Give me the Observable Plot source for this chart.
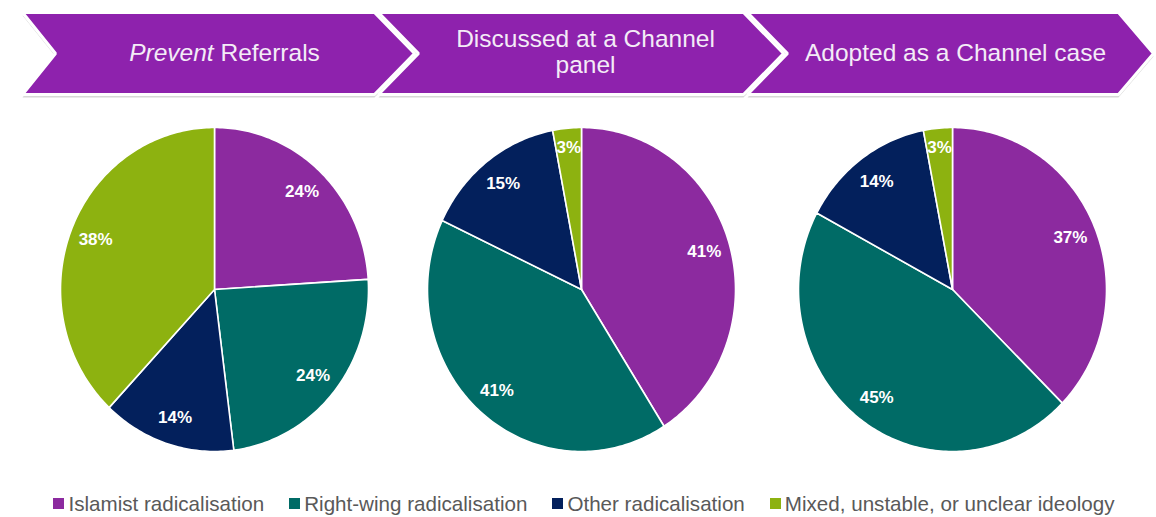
<!DOCTYPE html>
<html>
<head>
<meta charset="utf-8">
<script src="https://cdn.jsdelivr.net/npm/d3@7"></script>
<script src="https://cdn.jsdelivr.net/npm/@observablehq/plot@0.6"></script>
<style>
  html, body { margin: 0; padding: 0; background: #fff; }
  body { width: 1156px; height: 517px; overflow: hidden; font-family: "Liberation Sans", Arial, sans-serif; }
  #legend { display: flex; justify-content: center; gap: 25px; height: 27px; line-height: 29px;
            font-size: 20.6px; color: #595959; padding-left: 12px; }
  #legend .item { display: flex; align-items: center; white-space: nowrap; }
  #legend .sw { width: 11px; height: 11px; margin-right: 4px; display: inline-block; }
</style>
</head>
<body>
<div id="chart"></div>
<div id="legend"></div>
<script>
// ---------- data ----------
const categories = ["Islamist radicalisation", "Right-wing radicalisation", "Other radicalisation", "Mixed, unstable, or unclear ideology"];
const colors = ["#8c2a9f", "#006b66", "#03205c", "#8db210"];
const stages = ["Prevent Referrals", "Discussed at a Channel\npanel", "Adopted as a Channel case"];
const referrals = [24, 24, 14, 38];
const discussed = [41, 41, 15, 3];
const adopted = [37, 45, 14, 3];

// ---------- layout ----------
const W = 1156, H = 490;
const pieCx = [214, 581, 952], pieCy = 289, rx = 154, ry = 162;
const chevLeft = [22, 378, 747], chevRight = [374, 743, 1118];
const notch = [33, 40, 40], tipDepth = [40, 40, 35];
const chevTop = 12, chevBottom = 94, chevMid = 53;
const headerX = [224, 585, 955];

const series = [referrals, discussed, adopted];

// pie slice polygons
const slices = [], labels = [];
series.forEach((vals, i) => {
  const arcs = d3.pie().sort(null)(vals);
  arcs.forEach((a, j) => {
    const key = i + "-" + j;
    slices.push({key, cat: categories[j], x: pieCx[i], y: pieCy});
    const n = Math.max(2, Math.ceil((a.endAngle - a.startAngle) / (Math.PI / 180)));
    for (let k = 0; k <= n; k++) {
      const t = a.startAngle + (a.endAngle - a.startAngle) * k / n;
      slices.push({key, cat: categories[j], x: pieCx[i] + rx * Math.sin(t), y: pieCy - ry * Math.cos(t)});
    }
    const m = (a.startAngle + a.endAngle) / 2;
    const f = vals[j] < 5 ? 0.88 : 0.83;
    labels.push({x: pieCx[i] + f * rx * Math.sin(m), y: pieCy - f * ry * Math.cos(m), text: vals[j] + "%"});
  });
});

// chevron polygons
const chevrons = [], shadows = [];
stages.forEach((s, i) => {
  const pts = [
    [chevLeft[i], chevTop], [chevRight[i], chevTop], [chevRight[i] + tipDepth[i], chevMid],
    [chevRight[i], chevBottom], [chevLeft[i], chevBottom], [chevLeft[i] + notch[i], chevMid]
  ];
  pts.forEach(([x, y]) => {
    chevrons.push({key: i, x, y});
    shadows.push({key: i, x: x, y: y + 3});
  });
});
const headers = stages.map((s, i) => ({x: headerX[i], y: chevMid - (s.includes("\n") ? 2 : 1), text: s}));

const chart = Plot.plot({
  width: W, height: H, margin: 0,
  style: {background: "#fff", fontFamily: "'Liberation Sans', Arial, sans-serif"},
  x: {domain: [0, W], range: [0, W], axis: null},
  y: {domain: [0, H], range: [0, H], axis: null},
  color: {domain: categories, range: colors},
  marks: [
    Plot.line(shadows, {x: "x", y: "y", z: "key", curve: "linear-closed", fill: "#bdbdbd", fillOpacity: 0.6, stroke: "none"}),
    Plot.line(chevrons, {x: "x", y: "y", z: "key", curve: "linear-closed", fill: "#8e22ad", stroke: "white", strokeWidth: 3, strokeLinejoin: "miter"}),
    Plot.text(headers, {x: "x", y: "y", text: "text", fill: "#f4ecf7", fontSize: 24.5, lineHeight: 1.08}),
    Plot.line(slices, {x: "x", y: "y", z: "key", fill: "cat", stroke: "white", strokeWidth: 1.6, curve: "linear-closed", strokeLinejoin: "round"}),
    Plot.text(labels, {x: "x", y: "y", text: "text", fill: "white", fontSize: 17, fontWeight: "bold"})
  ]
});
document.getElementById("chart").appendChild(chart);

// italic "Prevent"
d3.select(chart).selectAll("text").filter(function() { return this.textContent === "Prevent Referrals"; })
  .each(function() {
    const t = d3.select(this);
    t.text(null);
    t.append("tspan").attr("font-style", "italic").text("Prevent");
    t.append("tspan").text(" Referrals");
  });

// legend
const lg = d3.select("#legend");
categories.forEach((c, i) => {
  const it = lg.append("div").attr("class", "item");
  it.append("span").attr("class", "sw").style("background", colors[i]);
  it.append("span").text(c);
});
</script>
</body>
</html>
